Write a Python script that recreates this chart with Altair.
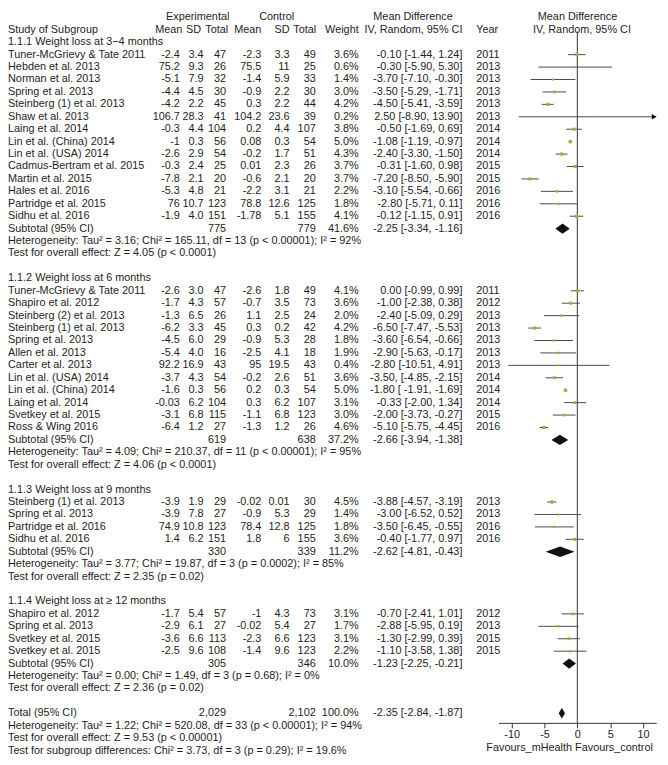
import altair as alt
import pandas as pd

FONT = "Liberation Sans"
TXT = "#1e1e1e"
GREEN = "#8cb83c"

SECTION_TITLES = [
    "1.1.1 Weight loss at 3\u22124 months",
    "1.1.2 Weight loss at 6 months",
    "1.1.3 Weight loss at 9 months",
    "1.1.4 Weight loss at \u2265 12 months",
]
SECTION_SIZES = [14, 12, 4, 4]

STUDY = [
    "Tuner-McGrievy & Tate 2011", "Hebden et al. 2013", "Norman et al. 2013", "Spring et al. 2013",
    "Steinberg (1) et al. 2013", "Shaw et al. 2013", "Laing et al. 2014", "Lin et al. (China) 2014",
    "Lin et al. (USA) 2014", "Cadmus-Bertram et al. 2015", "Martin et al. 2015", "Hales et al. 2016",
    "Partridge et al. 2015", "Sidhu et al. 2016",
    "Tuner-McGrievy & Tate 2011", "Shapiro et al. 2012", "Steinberg (2) et al. 2013", "Steinberg (1) et al. 2013",
    "Spring et al. 2013", "Allen et al. 2013", "Carter et al. 2013", "Lin et al. (USA) 2014",
    "Lin et al. (China) 2014", "Laing et al. 2014", "Svetkey et al. 2015", "Ross & Wing 2016",
    "Steinberg (1) et al. 2013", "Spring et al. 2013", "Partridge et al. 2016", "Sidhu et al. 2016",
    "Shapiro et al. 2012", "Spring et al. 2013", "Svetkey et al. 2015", "Svetkey et al. 2015",
]
EXP_MEAN = ["-2.4", "75.2", "-5.1", "-4.4", "-4.2", "106.7", "-0.3", "-1", "-2.6", "-0.3", "-7.8", "-5.3", "76", "-1.9",
            "-2.6", "-1.7", "-1.3", "-6.2", "-4.5", "-5.4", "92.2", "-3.7", "-1.6", "-0.03", "-3.1", "-6.4",
            "-3.9", "-3.9", "74.9", "1.4",
            "-1.7", "-2.9", "-3.6", "-2.5"]
EXP_SD = ["3.4", "9.3", "7.9", "4.5", "2.2", "28.3", "4.4", "0.3", "2.9", "2.4", "2.1", "4.8", "10.7", "4.0",
          "3.0", "4.3", "6.5", "3.3", "6.0", "4.0", "16.9", "4.3", "0.3", "6.2", "6.8", "1.2",
          "1.9", "7.8", "10.8", "6.2",
          "5.4", "6.1", "6.6", "9.6"]
EXP_N = [47, 26, 32, 30, 45, 41, 104, 56, 54, 25, 20, 21, 123, 151,
         47, 57, 26, 45, 29, 16, 43, 54, 56, 104, 115, 27,
         29, 27, 123, 151,
         57, 27, 113, 108]
CTL_MEAN = ["-2.3", "75.5", "-1.4", "-0.9", "0.3", "104.2", "0.2", "0.08", "-0.2", "0.01", "-0.6", "-2.2", "78.8", "-1.78",
            "-2.6", "-0.7", "1.1", "0.3", "-0.9", "-2.5", "95", "-0.2", "0.2", "0.3", "-1.1", "-1.3",
            "-0.02", "-0.9", "78.4", "1.8",
            "-1", "-0.02", "-2.3", "-1.4"]
CTL_SD = ["3.3", "11", "5.9", "2.2", "2.2", "23.6", "4.4", "0.3", "1.7", "2.3", "2.1", "3.1", "12.6", "5.1",
          "1.8", "3.5", "2.5", "0.2", "5.3", "4.1", "19.5", "2.6", "0.3", "6.2", "6.8", "1.2",
          "0.01", "5.3", "12.8", "6",
          "4.3", "5.4", "6.6", "9.6"]
CTL_N = [49, 25, 33, 30, 44, 39, 107, 54, 51, 26, 20, 21, 125, 155,
         49, 73, 24, 42, 28, 18, 43, 51, 54, 107, 123, 26,
         30, 29, 125, 155,
         73, 27, 123, 123]
WEIGHT = [3.6, 0.6, 1.4, 3.0, 4.2, 0.2, 3.8, 5.0, 4.3, 3.7, 3.7, 2.2, 1.8, 4.1,
          4.1, 3.6, 2.0, 4.2, 1.8, 1.9, 0.4, 3.6, 5.0, 3.1, 3.0, 4.6,
          4.5, 1.4, 1.8, 3.6,
          3.1, 1.7, 3.1, 2.2]
MD = [-0.10, -0.30, -3.70, -3.50, -4.50, 2.50, -0.50, -1.08, -2.40, -0.31, -7.20, -3.10, -2.80, -0.12,
      0.00, -1.00, -2.40, -6.50, -3.60, -2.90, -2.80, -3.50, -1.80, -0.33, -2.00, -5.10,
      -3.88, -3.00, -3.50, -0.40,
      -0.70, -2.88, -1.30, -1.10]
CI_LO = [-1.44, -5.90, -7.10, -5.29, -5.41, -8.90, -1.69, -1.19, -3.30, -1.60, -8.50, -5.54, -5.71, -1.15,
         -0.99, -2.38, -5.09, -7.47, -6.54, -5.63, -10.51, -4.85, -1.91, -2.00, -3.73, -5.75,
         -4.57, -6.52, -6.45, -1.77,
         -2.41, -5.95, -2.99, -3.58]
CI_HI = [1.24, 5.30, -0.30, -1.71, -3.59, 13.90, 0.69, -0.97, -1.50, 0.98, -5.90, -0.66, 0.11, 0.91,
         0.99, 0.38, 0.29, -5.53, -0.66, -0.17, 4.91, -2.15, -1.69, 1.34, -0.27, -4.45,
         -3.19, 0.52, -0.55, 0.97,
         1.01, 0.19, 0.39, 1.38]
YEAR = [2011, 2013, 2013, 2013, 2013, 2013, 2014, 2014, 2014, 2015, 2015, 2016, 2016, 2016,
        2011, 2012, 2013, 2013, 2013, 2013, 2013, 2014, 2014, 2014, 2015, 2016,
        2013, 2013, 2016, 2016,
        2012, 2013, 2015, 2015]
CI_TEXT_AS_PRINTED = {21: "-3.50, [-4.85, -2.15]", 22: "-1.80 [ -1.91, -1.69]"}

SUB_EXP_N = ["775", "619", "330", "305"]
SUB_CTL_N = ["779", "638", "339", "346"]
SUB_WEIGHT = [41.6, 37.2, 11.2, 10.0]
SUB_MD = [-2.25, -2.66, -2.62, -1.23]
SUB_LO = [-3.34, -3.94, -4.81, -2.25]
SUB_HI = [-1.16, -1.38, -0.43, -0.21]
HET_TAU2 = ["3.16", "4.09", "3.77", "0.00"]
HET_CHI2 = ["165.11", "210.37", "19.87", "1.49"]
HET_DF = [13, 11, 3, 3]
HET_P = ["< 0.00001", "< 0.00001", "= 0.0002", "= 0.68"]
HET_I2 = ["92", "95", "85", "0"]
Z_VAL = ["4.05", "4.06", "2.35", "2.36"]
Z_P = ["< 0.0001", "< 0.0001", "= 0.02", "= 0.02"]

TOTAL_EXP_N = "2,029"
TOTAL_CTL_N = "2,102"
TOTAL_WEIGHT = 100.0
TOTAL_MD, TOTAL_LO, TOTAL_HI = -2.35, -2.84, -1.87
TOTAL_HET = ("1.22", "520.08", 33, "< 0.00001", "94")
TOTAL_Z = ("9.53", "< 0.00001")
SUBGROUP_TEST = ("3.73", 3, "= 0.29", "19.6")

AXIS_TICKS = [-10, -5, 0, 5, 10]


def ci_text(md, lo, hi):
    return f"{md:.2f} [{lo:.2f}, {hi:.2f}]"


def het_text(tau, chi, df, p, i2):
    return f"Heterogeneity: Tau\u00b2 = {tau}; Chi\u00b2 = {chi}, df = {df} (p {p}); I\u00b2 = {i2}%"


def z_text(z, p):
    return f"Test for overall effect: Z = {z} (p {p})"


# ---------- build tables ----------
table = []
forest = []
diamonds = []
r = 0
k = 0
for s, n in enumerate(SECTION_SIZES):
    table.append(dict(row=r, name=SECTION_TITLES[s]))
    r += 1
    for i in range(k, k + n):
        table.append(dict(row=r, name=STUDY[i], em=EXP_MEAN[i], esd=EXP_SD[i], en=str(EXP_N[i]),
                          cm=CTL_MEAN[i], csd=CTL_SD[i], cn=str(CTL_N[i]), w=f"{WEIGHT[i]:.1f}%",
                          ci=CI_TEXT_AS_PRINTED.get(i, ci_text(MD[i], CI_LO[i], CI_HI[i])), year=str(YEAR[i])))
        forest.append(dict(row=r, md=MD[i], lo=CI_LO[i], hi=CI_HI[i], w=WEIGHT[i]))
        r += 1
    k += n
    table.append(dict(row=r, name="Subtotal (95% CI)", en=SUB_EXP_N[s], cn=SUB_CTL_N[s],
                      w=f"{SUB_WEIGHT[s]:.1f}%", ci=ci_text(SUB_MD[s], SUB_LO[s], SUB_HI[s])))
    diamonds.append((s, r, SUB_MD[s], SUB_LO[s], SUB_HI[s]))
    r += 1
    table.append(dict(row=r, name=het_text(HET_TAU2[s], HET_CHI2[s], HET_DF[s], HET_P[s], HET_I2[s])))
    r += 1
    table.append(dict(row=r, name=z_text(Z_VAL[s], Z_P[s])))
    r += 2

table.append(dict(row=r, name="Total (95% CI)", en=TOTAL_EXP_N, cn=TOTAL_CTL_N,
                  w=f"{TOTAL_WEIGHT:.1f}%", ci=ci_text(TOTAL_MD, TOTAL_LO, TOTAL_HI)))
diamonds.append((4, r, TOTAL_MD, TOTAL_LO, TOTAL_HI))
r += 1
table.append(dict(row=r, name=het_text(*TOTAL_HET)))
r += 1
table.append(dict(row=r, name=z_text(*TOTAL_Z)))
r += 1
table.append(dict(row=r, name="Test for subgroup differences: Chi\u00b2 = %s, df = %s (p %s); I\u00b2 = %s%%" % SUBGROUP_TEST))

cols = ["name", "em", "esd", "en", "cm", "csd", "cn", "w", "ci", "year"]
tdf = pd.DataFrame(table)
for c in cols:
    tdf[c] = tdf[c].fillna("")
fdf = pd.DataFrame(forest)

HALF = 0.42
drows = []
for g, row, md, lo, hi in diamonds:
    drows += [dict(g=g, x=lo, y=row, y2=row), dict(g=g, x=md, y=row - HALF, y2=row + HALF),
              dict(g=g, x=hi, y=row, y2=row)]
ddf = pd.DataFrame(drows)

# ---------- scales ----------
YS = alt.Scale(domain=[-2, 57], range=[4.84, 747.06])
XS = alt.Scale(domain=[-12, 12], range=[496.5, 656.1], clamp=True)
XA = alt.Axis(values=AXIS_TICKS, grid=False, offset=-38, tickSize=5, domainColor="#333", tickColor="#333",
              labelFont=FONT, labelFontSize=11, labelColor=TXT, labelPadding=1,
              labelExpr="'' + datum.value")


def Y(field="row"):
    return alt.Y(f"{field}:Q", scale=YS, axis=None)


def X(field):
    return alt.X(f"{field}:Q", scale=XS, axis=XA, title=None)


def text_col(field, px, align):
    return alt.Chart(tdf).mark_text(align=align, baseline="middle", font=FONT, fontSize=11, color=TXT).encode(
        x=alt.value(px), y=Y(), text=f"{field}:N")


layers = [
    text_col("name", 0, "left"),
    text_col("em", 174, "right"),
    text_col("esd", 198, "right"),
    text_col("en", 220.7, "right"),
    text_col("cm", 256.5, "right"),
    text_col("csd", 285, "right"),
    text_col("cn", 311.5, "right"),
    text_col("w", 355, "right"),
    text_col("ci", 460, "right"),
    text_col("year", 474, "left"),
]

HEADERS = [
    (-2, "Experimental", 192, "center"), (-2, "Control", 272, "center"),
    (-2, "Mean Difference", 410, "center"), (-2, "Mean Difference", 576.5, "center"),
    (-1, "Study of Subgroup", 0, "left"), (-1, "Mean", 176.5, "right"), (-1, "SD", 195.5, "right"),
    (-1, "Total", 223, "right"), (-1, "Mean", 256.5, "right"), (-1, "SD", 285, "right"),
    (-1, "Total", 312, "right"), (-1, "Weight", 355, "right"), (-1, "IV, Random, 95% CI", 460, "right"),
    (-1, "Year", 474, "left"), (-1, "IV, Random, 95% CI", 581, "center"),
]
for row, t, px, al in HEADERS:
    layers.append(alt.Chart(pd.DataFrame({"row": [row], "t": [t]})).mark_text(
        align=al, baseline="middle", font=FONT, fontSize=11, color=TXT).encode(
        x=alt.value(px), y=Y(), text="t:N"))

zero = alt.Chart(pd.DataFrame({"x": [0]})).mark_rule(color="#333", strokeWidth=1).encode(
    x=X("x"), y=alt.value(19), y2=alt.value(719))

ci_rules = alt.Chart(fdf).mark_rule(color="#4a4a4a", strokeWidth=1).encode(
    x=X("lo"), x2="hi:Q", y=Y())

squares = alt.Chart(fdf).mark_square(color=GREEN, opacity=1).encode(
    x=X("md"), y=Y(), size=alt.Size("w:Q", scale=alt.Scale(domain=[0, 5], range=[2, 12]), legend=None))

arrow = alt.Chart(fdf).transform_filter("datum.hi > 12").mark_point(
    shape="triangle-right", filled=True, color="#111", size=30, opacity=1, xOffset=-2).encode(
    x=X("hi"), y=Y())

dia = alt.Chart(ddf).mark_area(color="#111", opacity=1, orient="vertical").encode(
    x=X("x"), y=Y("y"), y2="y2:Q", detail="g:N")

fav1 = alt.Chart(pd.DataFrame({"t": ["Favours_mHealth"]})).mark_text(
    align="right", baseline="middle", font=FONT, fontSize=11, color=TXT).encode(
    x=alt.value(571), y=alt.value(744.5), text="t:N")
fav2 = alt.Chart(pd.DataFrame({"t": ["Favours_control"]})).mark_text(
    align="left", baseline="middle", font=FONT, fontSize=11, color=TXT).encode(
    x=alt.value(574), y=alt.value(744.5), text="t:N")

chart = alt.layer(*layers, zero, ci_rules, squares, arrow, dia, fav1, fav2).properties(
    width=660, height=757, padding=0, autosize=alt.AutoSizeParams(type="none"),
    background="white",
).configure_view(stroke=None)

chart.save("out.html", embed_options={"renderer": "svg", "actions": False})
